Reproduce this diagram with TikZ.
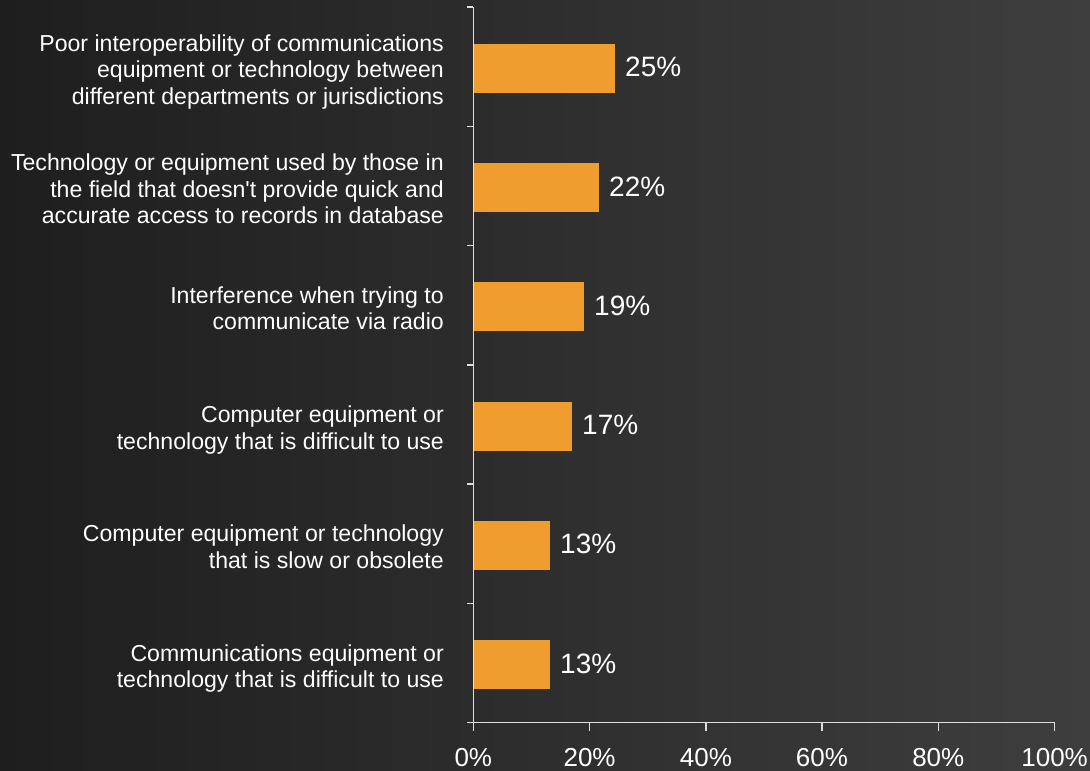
\documentclass[tikz,border=0pt]{standalone}
\usepackage{fontspec}
\setmainfont{Liberation Sans}
\usepackage{xcolor}

\definecolor{barorange}{RGB}{240,157,48}
\definecolor{axisgray}{RGB}{222,222,222}
\definecolor{bgleft}{RGB}{30,30,30}
\definecolor{bgright}{RGB}{62,62,62}

\begin{document}
\begin{tikzpicture}[x=1pt,y=-1pt,
        catlabel/.style={anchor=east,align=right,text=white,inner sep=0pt,font=\fontsize{23.1}{26.7}\selectfont},
        vallabel/.style={anchor=west,text=white,inner sep=0pt,font=\fontsize{28}{32}\selectfont},
        pctlabel/.style={anchor=center,text=white,inner sep=0pt,font=\fontsize{26}{30}\selectfont},
        barfill/.style={fill=barorange,draw=none},
        axisline/.style={draw=axisgray,line width=1.5pt}]

            \shade[left color=bgleft,right color=bgright] (0,0) rectangle (1090,771);
            \useasboundingbox (0,0) rectangle (1090,771);

            % bars
            \fill[barfill] (473.3,43.6) rectangle (615,92.6);
            \fill[barfill] (473.3,162.9) rectangle (599,211.9);
            \fill[barfill] (473.3,282.2) rectangle (584,331.2);
            \fill[barfill] (473.3,401.5) rectangle (572,450.5);
            \fill[barfill] (473.3,520.8) rectangle (550,569.8);
            \fill[barfill] (473.3,640.1) rectangle (550,689.1);

            \node (v1) at (625,67.1) [vallabel] {25\%};
            \node (v2) at (609,186.4) [vallabel] {22\%};
            \node (v3) at (594,305.7) [vallabel] {19\%};
            \node (v4) at (582,425) [vallabel] {17\%};
            \node (v5) at (560,544.3) [vallabel] {13\%};
            \node (v6) at (560,663.6) [vallabel] {13\%};

            % category labels
            \node (c1) at (444,71.9) [catlabel] {Poor interoperability of communications\\equipment or technology between\\different departments or jurisdictions};
            \node (c2) at (444,188.8) [catlabel] {Technology or equipment used by those in\\the field that doesn\textquotesingle t provide quick and\\accurate access to records in database};
            \node (c3) at (444,308.1) [catlabel] {Interference when trying to\\communicate via radio};
            \node (c4) at (444,429.8) [catlabel] {Computer equipment or\\technology that is difficult to use};
            \node (c5) at (444,546.7) [catlabel] {Computer equipment or technology\\that is slow or obsolete};
            \node (c6) at (444,668.4) [catlabel] {Communications equipment or\\technology that is difficult to use};

            % axes
            \coordinate (ytop) at (473.3,7);
            \coordinate (origin) at (473.3,722.7);
            \coordinate (xend) at (1054.6,722.7);

            \draw[axisline] (ytop) -- (origin) -- (xend);
            \draw[axisline] (467.3,7) -- (473.3,7) (467.3,126.3) -- (473.3,126.3)
                (467.3,245.6) -- (473.3,245.6) (467.3,364.9) -- (473.3,364.9)
                (467.3,484.1) -- (473.3,484.1) (467.3,603.4) -- (473.3,603.4)
                (467.3,722.7) -- (473.3,722.7);
            \draw[axisline] (473.3,722.7) -- (473.3,730.7) (589.6,722.7) -- (589.6,730.7)
                (705.9,722.7) -- (705.9,730.7) (822,722.7) -- (822,730.7)
                (938.3,722.7) -- (938.3,730.7) (1054.6,722.7) -- (1054.6,730.7);

            \node (p0) at (473.3,757.5) [pctlabel] {0\%};
            \node (p20) at (589.6,757.5) [pctlabel] {20\%};
            \node (p40) at (705.9,757.5) [pctlabel] {40\%};
            \node (p60) at (822,757.5) [pctlabel] {60\%};
            \node (p80) at (938.3,757.5) [pctlabel] {80\%};
            \node (p100) at (1054.6,757.5) [pctlabel] {100\%};

        \end{tikzpicture}
\end{document}
